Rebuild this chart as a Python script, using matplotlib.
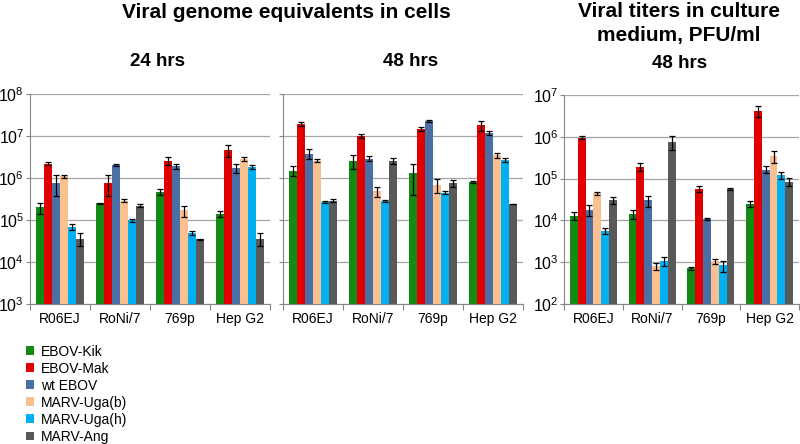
import matplotlib
matplotlib.use("Agg")
import matplotlib.pyplot as plt
from matplotlib.patches import Patch
from matplotlib.ticker import FixedLocator, NullLocator, LogLocator, NullFormatter

plt.rcParams['font.family'] = ['Liberation Sans', 'DejaVu Sans']
plt.rcParams['mathtext.fontset'] = 'custom'
plt.rcParams['mathtext.rm'] = 'Liberation Sans'
plt.rcParams['mathtext.it'] = 'Liberation Sans:italic'
plt.rcParams['mathtext.bf'] = 'Liberation Sans:bold'

cells = ["R06EJ", "RoNi/7", "769p", "Hep G2"]
viruses = ["EBOV-Kik", "EBOV-Mak", "wt EBOV", "MARV-Uga(b)", "MARV-Uga(h)", "MARV-Ang"]
colors = ["#138a13", "#e00000", "#4a6fa5", "#fac090", "#00b0f0", "#595959"]

# rows = virus, columns = cell line
ge_24h = [
    [2.0e5, 2.5e5, 4.7e5, 1.4e5],
    [2.2e6, 7.8e5, 2.6e6, 4.6e6],
    [7.8e5, 2.05e6, 1.9e6, 1.7e6],
    [1.1e6, 2.9e5, 1.7e5, 2.8e6],
    [6.8e4, 9.8e4, 4.9e4, 1.8e6],
    [3.6e4, 2.2e5, 3.5e4, 3.6e4],
]
ge_24h_err = [
    [6e4, 5e3, 7e4, 2.5e4],
    [2e5, 4e5, 6e5, 1.4e6],
    [4e5, 1e5, 3e5, 4e5],
    [8e4, 2e4, 5e4, 3e5],
    [1.1e4, 1e4, 5e3, 2e5],
    [1.2e4, 1.5e4, 1e3, 1.2e4],
]

ge_48h = [
    [1.5e6, 2.6e6, 1.3e6, 8.0e5],
    [1.95e7, 1.0e7, 1.5e7, 1.8e7],
    [3.8e6, 2.9e6, 2.3e7, 1.2e7],
    [2.6e6, 4.9e5, 6.8e5, 3.5e6],
    [2.7e5, 2.9e5, 4.5e5, 2.7e6],
    [2.9e5, 2.6e6, 7.6e5, 2.4e5],
]
ge_48h_err = [
    [4e5, 1e6, 9e5, 5e4],
    [2e6, 1e6, 1.5e6, 5e6],
    [1e6, 4e5, 1e6, 1.2e6],
    [2e5, 1.3e5, 2.5e5, 5e5],
    [2e4, 1.5e4, 3e4, 2.5e5],
    [2e4, 4e5, 1.5e5, 5e3],
]

pfu_48h = [
    [1.3e4, 1.45e4, 7.1e2, 2.5e4],
    [9.5e5, 1.9e5, 5.6e4, 4.2e6],
    [1.8e4, 3.0e4, 1.1e4, 1.65e5],
    [4.5e4, 8.0e2, 1.05e3, 3.5e5],
    [5.6e3, 1.05e3, 8.4e2, 1.2e5],
    [3.1e4, 7.6e5, 5.6e4, 8.5e4],
]
pfu_48h_err = [
    [2.5e3, 3.5e3, 70, 4e3],
    [8e4, 4e4, 9e3, 1.2e6],
    [5e3, 9e3, 6e2, 3e4],
    [4e3, 1.5e2, 1.5e2, 1.2e5],
    [1e3, 2.5e2, 2.5e2, 2e4],
    [6e3, 2.8e5, 3e3, 1.8e4],
]


def draw_panel(ax, data, err, ymin, ymax, show_ylabels=True):
    n = len(viruses)
    w = 0.8 / n
    for j in range(n):
        xs = [i + (j - (n - 1) / 2) * w for i in range(len(cells))]
        heights = [v - ymin for v in data[j]]
        ax.bar(xs, heights, w, bottom=ymin, color=colors[j], zorder=2)
        ax.errorbar(xs, data[j], yerr=err[j], fmt="none", ecolor="black",
                    elinewidth=0.9, capsize=2, capthick=0.9, zorder=3)
    ax.set_yscale("log")
    ax.set_ylim(ymin, ymax)
    ax.set_xlim(-0.5, len(cells) - 0.5)
    ax.yaxis.set_major_locator(LogLocator(base=10, numticks=10))
    ax.yaxis.set_minor_locator(NullLocator())
    if not show_ylabels:
        ax.yaxis.set_major_formatter(NullFormatter())
    ax.yaxis.grid(True, color="#a6a6a6", lw=0.9)
    ax.set_axisbelow(True)
    ax.xaxis.set_major_locator(FixedLocator([i - 0.5 for i in range(len(cells) + 1)]))
    ax.xaxis.set_major_formatter(NullFormatter())
    ax.xaxis.set_minor_locator(FixedLocator(range(len(cells))))
    ax.set_xticklabels(cells, minor=True)
    ax.tick_params(axis="x", which="major", length=4, color="#868686")
    ax.tick_params(axis="x", which="minor", length=0, pad=6, labelsize=10)
    ax.tick_params(axis="y", length=3, color="#868686", labelsize=11.5, pad=1)
    for s in ["top", "right"]:
        ax.spines[s].set_visible(False)
    for s in ["left", "bottom"]:
        ax.spines[s].set_color("#868686")


fig = plt.figure(figsize=(8, 4.44), dpi=100)
ax1 = fig.add_axes([29.7 / 800, 1 - 304 / 444, 240 / 800, 210 / 444])
ax2 = fig.add_axes([283 / 800, 1 - 304 / 444, 240 / 800, 210 / 444])
ax3 = fig.add_axes([564 / 800, 1 - 304 / 444, 235 / 800, 209 / 444])

draw_panel(ax1, ge_24h, ge_24h_err, 1e3, 1e8)
draw_panel(ax2, ge_48h, ge_48h_err, 1e3, 1e8, show_ylabels=False)
draw_panel(ax3, pfu_48h, pfu_48h_err, 1e2, 1e7)

title_kw = dict(fontsize=15, fontweight="bold", ha="center", va="center")
sub_kw = dict(fontsize=13.5, fontweight="bold", ha="center", va="center")
fig.text(286 / 800, 1 - 13 / 444, "Viral genome equivalents in cells", **title_kw)
fig.text(679 / 800, 1 - 23.5 / 444, "Viral titers in culture\nmedium, PFU/ml",
         linespacing=1.3, **title_kw)
fig.text(158 / 800, 1 - 62 / 444, "24 hrs", **sub_kw)
fig.text(411 / 800, 1 - 62 / 444, "48 hrs", **sub_kw)
fig.text(680 / 800, 1 - 63 / 444, "48 hrs", **sub_kw)

handles = [Patch(facecolor=c, edgecolor="none") for c in colors]
fig.legend(handles, viruses, loc="upper left", bbox_to_anchor=(20 / 800, 1 - 339 / 444),
           frameon=False, fontsize=10, handlelength=0.6, handleheight=0.6,
           handletextpad=0.5, labelspacing=0.22, borderaxespad=0)

fig.savefig("out.png", dpi=100)
